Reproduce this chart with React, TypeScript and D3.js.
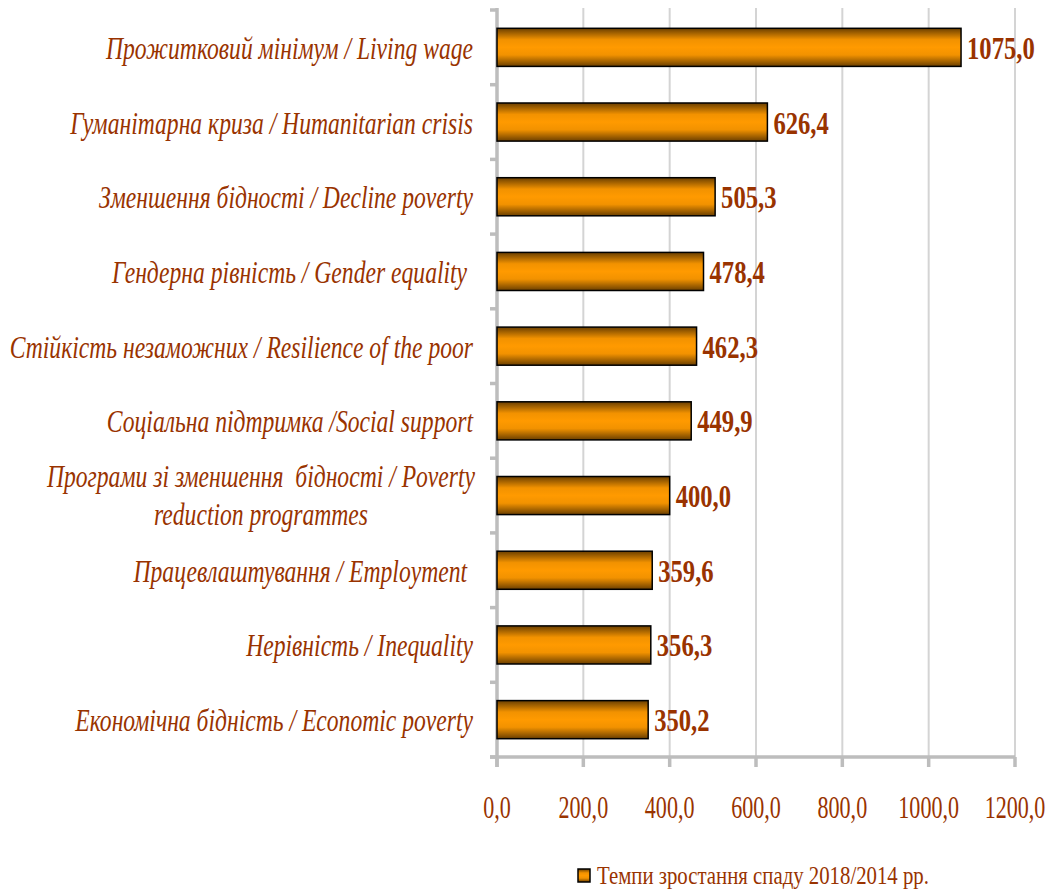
import React from "react";
import * as d3 from "d3";

const categories: string[][] = [
  ["Прожитковий мінімум / Living wage"],
  ["Гуманітарна криза / Humanitarian crisis"],
  ["Зменшення бідності / Decline poverty"],
  ["Гендерна рівність / Gender equality "],
  ["Стійкість незаможних / Resilience of the poor"],
  ["Соціальна підтримка /Social support"],
  ["Програми зі зменшення  бідності / Poverty", "reduction programmes"],
  ["Працевлаштування / Employment "],
  ["Нерівність / Inequality"],
  ["Економічна бідність / Economic poverty"],
];
const values: number[] = [1075.0, 626.4, 505.3, 478.4, 462.3, 449.9, 400.0, 359.6, 356.3, 350.2];
const ticks: number[] = [0, 200, 400, 600, 800, 1000, 1200];
const legendLabel = "Темпи зростання спаду 2018/2014 рр.";

const W = 1054;
const H = 895;
const left = 497;
const right = 1015;
const top = 10;
const bottom = 757;
const brown = "#993300";
const font = "'Liberation Serif', 'Times New Roman', serif";

const fmt = (v: number) => v.toFixed(1).replace(".", ",");

const tr = (x: number, y: number, sx: number) => `translate(${x},${y}) scale(${sx},1)`;

export default function App() {
  const x = d3.scaleLinear().domain([0, 1200]).range([left, right]);
  const y = d3
    .scaleBand<number>()
    .domain(d3.range(categories.length))
    .range([top, bottom])
    .paddingInner(0.49)
    .paddingOuter(0.245);
  const boundaries = d3.range(categories.length + 1).map((i) => top + i * ((bottom - top) / categories.length));

  return (
    <svg width={W} height={H} style={{ position: "absolute", left: 0, top: 0, background: "#fff" }}>
      <defs>
        <linearGradient id="barGrad" x1="0" y1="0" x2="0" y2="1">
          <stop offset="0" stopColor="#6b3f00" />
          <stop offset="0.3" stopColor="#f29200" />
          <stop offset="0.5" stopColor="#ff9a00" />
          <stop offset="0.7" stopColor="#f29200" />
          <stop offset="1" stopColor="#6b3f00" />
        </linearGradient>
      </defs>
      {ticks.slice(1).map((t) => (
        <line key={"g" + t} x1={x(t)} x2={x(t)} y1={top - 2} y2={bottom} stroke="#d4d4d4" strokeWidth={2} />
      ))}
      <line x1={left} x2={left} y1={top - 2} y2={bottom + 10} stroke="#bdbdbd" strokeWidth={3.5} />
      {boundaries.map((b, i) => (
        <line key={"yt" + i} x1={left - 7} x2={left} y1={b} y2={b} stroke="#bdbdbd" strokeWidth={3.5} />
      ))}
      <line x1={left - 7} x2={right} y1={bottom} y2={bottom} stroke="#bdbdbd" strokeWidth={3.5} />
      {ticks.map((t) => (
        <line key={"xt" + t} x1={x(t)} x2={x(t)} y1={bottom} y2={bottom + 10} stroke="#bdbdbd" strokeWidth={3.5} />
      ))}
      {ticks.map((t) => (
        <text
          key={"xl" + t}
          transform={tr(x(t), 818, 0.69)}
          textAnchor="middle"
          fontFamily={font}
          fontSize={32}
          fill={brown}
        >
          {fmt(t)}
        </text>
      ))}
      {values.map((v, i) => {
        const by = y(i)!;
        const bh = y.bandwidth();
        return (
          <g key={"b" + i}>
            <rect x={x(0)} y={by} width={x(v) - x(0)} height={bh} fill="url(#barGrad)" stroke="#000" strokeWidth={1.5} />
            <text
              transform={tr(x(v) + 6, by + bh / 2 + 11.5, 0.77)}
              fontFamily={font}
              fontWeight="bold"
              fontSize={32}
              fill={brown}
            >
              {fmt(v)}
            </text>
          </g>
        );
      })}
      {categories.map((lines, i) => {
        const cy = y(i)! + y.bandwidth() / 2;
        if (lines.length === 1) {
          return (
            <text
              key={"c" + i}
              transform={tr(473, cy + 11.5, 0.762)}
              textAnchor="end"
              fontFamily={font}
              fontStyle="italic"
              fontSize={31}
              fill={brown}
              style={{ whiteSpace: "pre" }}
            >
              {lines[0]}
            </text>
          );
        }
        return (
          <g key={"c" + i}>
            {lines.map((l, j) => (
              <text
                key={j}
                transform={tr(261, cy - 8.5 + j * 38, 0.762)}
                textAnchor="middle"
                fontFamily={font}
                fontStyle="italic"
                fontSize={31}
                fill={brown}
                style={{ whiteSpace: "pre" }}
              >
                {l}
              </text>
            ))}
          </g>
        );
      })}
      <rect x={578} y={869} width={12} height={13} fill="url(#barGrad)" stroke="#000" strokeWidth={1.5} />
      <text transform={tr(597, 884, 0.8)} fontFamily={font} fontSize={26} fill={brown}>
        {legendLabel}
      </text>
    </svg>
  );
}
